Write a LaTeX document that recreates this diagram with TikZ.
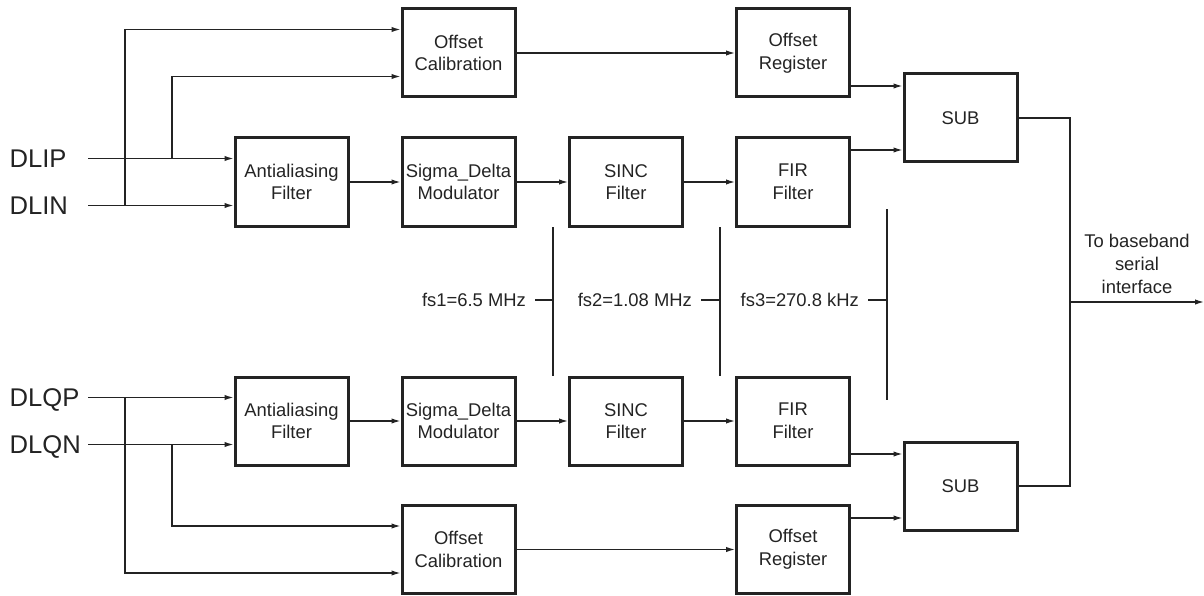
\documentclass[tikz,border=0pt]{standalone}
\usepackage{fontspec}
\setmainfont{Liberation Sans}
\usetikzlibrary{arrows.meta}
\definecolor{ink}{RGB}{35,35,35}
\begin{document}
\begin{tikzpicture}[x=1pt,y=-1pt,ink,line width=1.3pt,>={Latex[length=9pt,width=5.4pt]}]
    \tikzstyle{every node}=[inner sep=0pt,text=ink,font=\fontsize{18.4}{22.6}\selectfont]
    \tikzstyle{block}=[draw,line width=3pt,minimum width=113pt,minimum height=88pt,align=center]
    \tikzstyle{pin}=[anchor=west,text width=78pt,text height=18.3pt,text depth=0pt,font=\fontsize{25.6}{30}\selectfont]
    \tikzstyle{rate}=[anchor=east,inner xsep=8.5pt]
    \useasboundingbox (0,0) rectangle (1204,596);
    \draw node[pin](dlip)at(9,158.5){DLIP} node[pin](dlin)at(9,205.5){DLIN}
          node[pin](dlqp)at(9,397.5){DLQP} node[pin](dlqn)at(9,444.5){DLQN};
    \draw node[block](aaI)at(291.5,182){Antialiasing\\Filter} node[block](sdI)at(458.5,182){Sigma\_Delta\\Modulator}
          node[block](sincI)at(626,182){SINC\\Filter} node[block](firI)at(793,182){FIR\\Filter}
          node[block](ocalI)at(458.5,53){Offset\\Calibration} node[block](oregI)at(793,53){Offset\\Register}
          node[block](subI)at(960.5,118){SUB};
    \draw node[block](aaQ)at(291.5,421){Antialiasing\\Filter} node[block](sdQ)at(458.5,421){Sigma\_Delta\\Modulator}
          node[block](sincQ)at(626,421){SINC\\Filter} node[block](firQ)at(793,421){FIR\\Filter}
          node[block](ocalQ)at(458.5,549.5){Offset\\Calibration} node[block](oregQ)at(793,549.5){Offset\\Register}
          node[block](subQ)at(960.5,486){SUB};
    \draw node[rate](fs1)at(535,300){fs1=6.5 MHz} node[rate](fs2)at(701,300){fs2=1.08 MHz}
          node[rate](fs3)at(868,300){fs3=270.8 kHz};
    \draw node[anchor=south,align=center](dest)at(1137,294){To baseband\\serial\\interface};
    \coordinate (jIP) at (172,158.5); \coordinate (jIN) at (125,205.5);
    \coordinate (jQP) at (125,397.5); \coordinate (jQN) at (172,444.5);
    \coordinate (subIa) at ([yshift=32pt]subI.west); \coordinate (subIb) at ([yshift=-32pt]subI.west);
    \coordinate (subQa) at ([yshift=32pt]subQ.west); \coordinate (subQb) at ([yshift=-32pt]subQ.west);
    \coordinate (v1a) at (553,227); \coordinate (v1b) at (553,376);
    \coordinate (v2a) at (720,227); \coordinate (v2b) at (720,376);
    \coordinate (v3a) at (887,209); \coordinate (v3b) at (887,400);
    \coordinate (bus) at (1070,302); \coordinate (out) at (1204,302);
    \draw[->](dlip.east)--(aaI.west |- dlip);
    \draw[->](dlin.east)--(aaI.west |- dlin);
    \draw[->](jIN)|-([yshift=23.5pt]ocalI.west);
    \draw[->](jIP)|-([yshift=-23.5pt]ocalI.west);
    \draw[->](dlqp.east)--(aaQ.west |- dlqp);
    \draw[->](dlqn.east)--(aaQ.west |- dlqn);
    \draw[->](jQP)|-([yshift=-23.5pt]ocalQ.west);
    \draw[->](jQN)|-([yshift=23.5pt]ocalQ.west);
    \draw[->](aaI)--(sdI);
    \draw[->](sdI)--(sincI);
    \draw[->](sincI)--(firI);
    \draw[->](ocalI)--(oregI);
    \draw[->](aaQ)--(sdQ);
    \draw[->](sdQ)--(sincQ);
    \draw[->](sincQ)--(firQ);
    \draw[->](ocalQ)--(oregQ);
    \draw[->](oregI.east |- subIa)--(subIa);
    \draw[->](firI.east |- subIb)--(subIb);
    \draw[->](firQ.east |- subQa)--(subQa);
    \draw[->](oregQ.east |- subQb)--(subQb);
    \draw(v1a)--(v1b);
    \draw(v2a)--(v2b);
    \draw(v3a)--(v3b);
    \draw(fs1.east)--(fs1.east -| v1a);
    \draw(fs2.east)--(fs2.east -| v2a);
    \draw(fs3.east)--(fs3.east -| v3a);
    \draw(subI.east)-|(bus)|-(subQ.east);
    \draw[->](bus)--(out);
\end{tikzpicture}
\end{document}
